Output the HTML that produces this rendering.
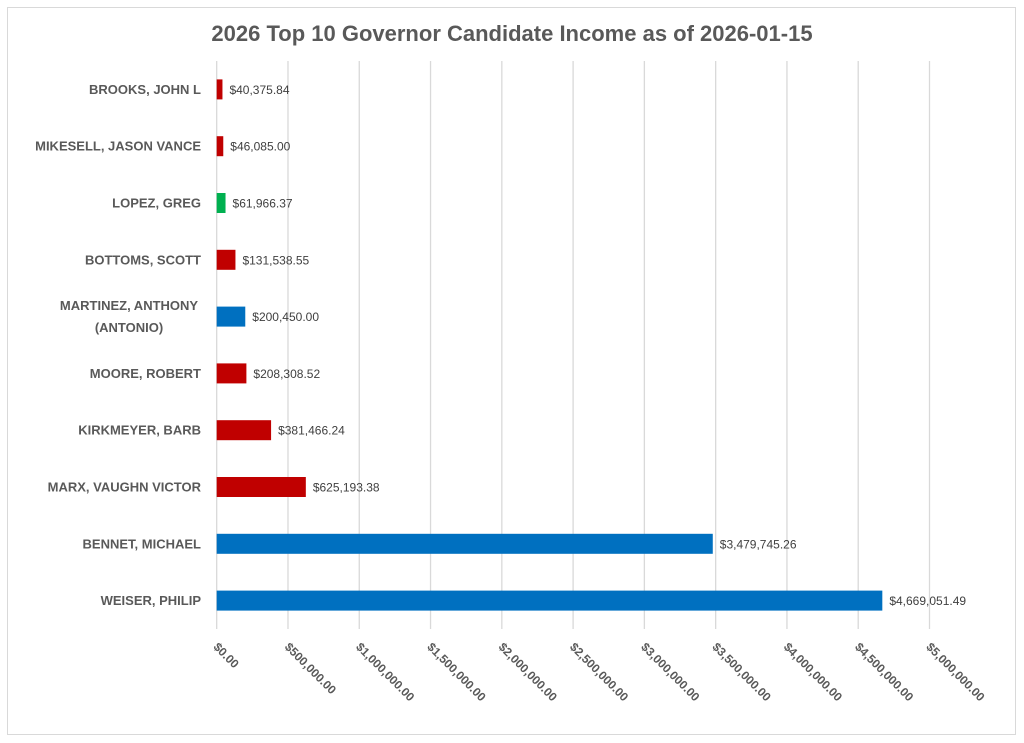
<!DOCTYPE html>
<html><head><meta charset="utf-8"><style>
body{margin:0;background:#fff;}
svg{display:block;font-family:"Liberation Sans",sans-serif;}
</style></head><body>
<svg width="1024" height="743" id="c">
<rect x="7.5" y="7.5" width="1008" height="727" fill="#fff" stroke="#d9d9d9"/>
<text x="512" y="41" text-anchor="middle" font-size="22" font-weight="bold" fill="#595959">2026 Top 10 Governor Candidate Income as of 2026-01-15</text>
<g id="grid"></g><g id="bars"></g><g id="labels"></g>
</svg>
<script>
const names=[["BROOKS, JOHN L"],["MIKESELL, JASON VANCE"],["LOPEZ, GREG"],["BOTTOMS, SCOTT"],["MARTINEZ, ANTHONY","(ANTONIO)"],["MOORE, ROBERT"],["KIRKMEYER, BARB"],["MARX, VAUGHN VICTOR"],["BENNET, MICHAEL"],["WEISER, PHILIP"]];
const values=[40375.84,46085.00,61966.37,131538.55,200450.00,208308.52,381466.24,625193.38,3479745.26,4669051.49];
const parties=["R","R","G","R","D","R","R","R","D","D"];
const ticks=[0,500000,1000000,1500000,2000000,2500000,3000000,3500000,4000000,4500000,5000000];
const colors={R:"#C00000",D:"#0070C0",G:"#00B050"};
const NS="http://www.w3.org/2000/svg";
const x0=216.7,x1=929.5,yTop=61,yBot=629,rowH=(yBot-yTop)/names.length;
const xs=v=>x0+v/5000000*(x1-x0);
const ys=i=>yTop+rowH*(i+0.5);
const fmt=v=>"$"+v.toLocaleString("en-US",{minimumFractionDigits:2,maximumFractionDigits:2});
function mk(t,a,p){const e=document.createElementNS(NS,t);for(const k in a)e.setAttribute(k,a[k]);p.appendChild(e);return e;}
const g=document.getElementById("grid"),b=document.getElementById("bars"),l=document.getElementById("labels");
ticks.forEach(t=>{
 const x=xs(t);
 const ln=mk("line",{x1:x,x2:x,y1:yTop,y2:yBot,stroke:"#d9d9d9","stroke-width":1.3},g);
 
 
 const tx=mk("text",{x:x,y:646,"font-size":12,"font-weight":"bold",fill:"#595959",transform:`rotate(45 ${x-4} 642)`},g);
 tx.textContent=fmt(t);
 
 
});
values.forEach((v,i)=>{
 const y=ys(i);
 const r=mk("rect",{x:x0,y:y-10,width:xs(v)-x0,height:20,fill:colors[parties[i]]},b);
 
 
 const dl=mk("text",{x:xs(v)+7,y:y+4.5,"font-size":12,fill:"#404040"},l);
 dl.textContent=fmt(v);
 
 
 const lines=names[i];
 lines.forEach((s,j)=>{
  const ty=y+4.5+(j-(lines.length-1)/2)*22;
  const nt=mk("text",{x:lines.length>1?129:201,y:ty,"text-anchor":lines.length>1?"middle":"end","font-size":13,"font-weight":"bold",fill:"#595959"},l);
  nt.textContent=s;
  
  
 });
});
</script>
</body></html>
